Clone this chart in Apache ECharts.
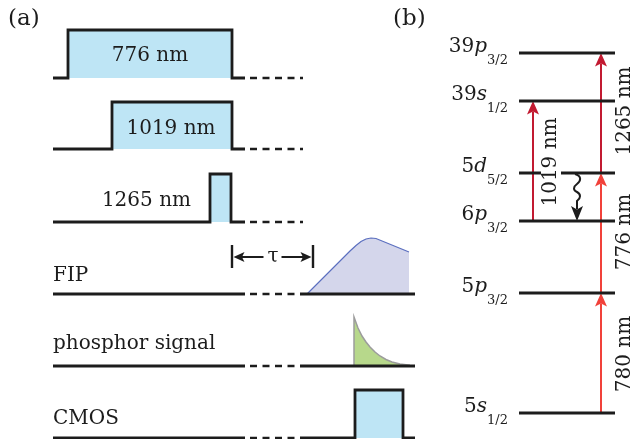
<!DOCTYPE html>
<html><head><meta charset="utf-8">
<script src="https://cdn.jsdelivr.net/npm/echarts@6/dist/echarts.min.js"></script>
<style>html,body{margin:0;padding:0;background:#fff}#c{width:636px;height:439px}</style>
</head><body><div id="c"></div>
<script>
// ================= DATA =================
// Panel (a): timing traces (time in arbitrary units, amplitude in arbitrary units)
const traceLabels = ['776 nm', '1019 nm', '1265 nm', 'FIP', 'phosphor signal', 'CMOS'];
const pulse776  = [15, 179, 48];   // [start, end, amplitude]
const pulse1019 = [59, 179, 47];
const pulse1265 = [157, 178, 48];
const pulseCMOS = [302, 350, 48];
const fipCurve = [[254, 0], [297, 43], [303, 48.5], [308, 52.5], [313, 55], [318, 56], [323, 55.5], [356, 42]];
const phosphorCurve = [[301, 49], [305, 38], [309, 30], [313, 24], [317, 19], [322, 14], [327, 10], [333, 6.5], [339, 4], [347, 2], [357, 0.8]];
const tauSpan = [179, 260];
const tauLabel = 'τ';
const timeEnd = 362;
const solidEnd = 192, dashStart = 197, dashEndShort = 250, dashEndLong = 244, resumeStart = 247;

// Panel (b): energy levels (arbitrary energy units)
const levelNames = [['5', 's', '1/2'], ['5', 'p', '3/2'], ['6', 'p', '3/2'], ['5', 'd', '5/2'], ['39', 's', '1/2'], ['39', 'p', '3/2']];
const levelEnergies = [0, 120, 192, 240, 312, 360];
// transitions: [from level index, to level index]
const transitionLabels = ['780 nm', '776 nm', '1019 nm', '1265 nm'];
const transitionLevels = [[0, 1], [1, 3], [2, 4], [3, 5]];
const decayLevels = [3, 2];   // 5d -> 6p wavy decay

// ================= LAYOUT / STYLE =================
const FONT = '"DejaVu Serif", "Liberation Serif", serif';
const INK = '#1c1c1c';
const BLUE = '#bee5f5';
const DARKRED = '#c21a31', RED = '#f1413a';
const traceBase = [78, 149, 222, 294, 366, 438];
const transitionX = [82, 82, 14, 82];
const transitionColor = [RED, RED, DARKRED, DARKRED];
const transitionLabelPos = [[106, 59], [106, 181], [32, 251], [106, 302]];
const decayX = 58;

const grids = [], xAxes = [], yAxes = [], series = [];
traceBase.forEach((b, i) => {
  grids.push({left: 53, width: 362, top: b - 60, height: 60});
  xAxes.push({type: 'value', gridIndex: i, min: 0, max: timeEnd, show: false});
  yAxes.push({type: 'value', gridIndex: i, min: 0, max: 60, show: false});
});
grids.push({left: 519, width: 96, top: 53, height: 360});
xAxes.push({type: 'value', gridIndex: 6, min: 0, max: 96, show: false});
yAxes.push({type: 'value', gridIndex: 6, min: 0, max: 360, show: false});

function line(g, pts, opt) {
  opt = opt || {};
  series.push({type: 'line', xAxisIndex: g, yAxisIndex: g, data: pts, symbol: 'none', clip: false, silent: true,
    z: opt.z || 3, animation: false,
    lineStyle: {color: opt.color || INK, width: opt.width == null ? 3 : opt.width, type: opt.dash || 'solid', cap: 'butt', join: 'miter'}});
}
function fill(g, pts, color) {
  series.push({type: 'line', xAxisIndex: g, yAxisIndex: g, data: pts, symbol: 'none', clip: false, silent: true,
    z: 1, animation: false, lineStyle: {width: 0, opacity: 0}, areaStyle: {color: color, opacity: 1, origin: 'start'}});
}
const DASH = [7, 5.5];
function pulseTrace(g, p, withStart, endT) {
  fill(g, [[p[0], 0], [p[0], p[2]], [p[1], p[2]], [p[1], 0]], BLUE);
  line(g, [[withStart, 0], [p[0], 0], [p[0], p[2]], [p[1], p[2]], [p[1], 0], [endT, 0]], {width: 2.8});
}
// traces 1-3
[pulse776, pulse1019, pulse1265].forEach((p, i) => {
  pulseTrace(i, p, 0, solidEnd);
  line(i, [[dashStart, 0], [dashEndShort, 0]], {dash: DASH, width: 2.4});
});
// FIP
fill(3, fipCurve.concat([[fipCurve[fipCurve.length - 1][0], 0]]), '#d4d6eb');
line(3, fipCurve, {color: '#5b6fbf', width: 1.2, z: 2});
// phosphor
fill(4, [[phosphorCurve[0][0], 0]].concat(phosphorCurve, [[phosphorCurve[phosphorCurve.length - 1][0], 0]]), '#b7d88b');
line(4, [[phosphorCurve[0][0], 0]].concat(phosphorCurve), {color: '#9c9c9c', width: 1.5, z: 2});
// baselines of traces 4-6
[3, 4, 5].forEach(g => {
  line(g, [[0, 0], [solidEnd, 0]]);
  line(g, [[dashStart, 0], [dashEndLong, 0]], {dash: DASH, width: 2.4});
  if (g !== 5) line(g, [[resumeStart, 0], [timeEnd, 0]]);
});
// CMOS
pulseTrace(5, pulseCMOS, resumeStart, timeEnd);

// trace labels
const labelAnchors = [[97, 22, 'center'], [118, 20, 'center'], [138, 21.5, 'right'], [0, 18.5, 'left'], [0, 22, 'left'], [0, 19, 'left']];
function textItem(g, t, a, txt, align) {
  series.push({type: 'custom', coordinateSystem: 'cartesian2d', xAxisIndex: g, yAxisIndex: g, data: [[t, a]], z: 6,
    silent: true, animation: false,
    renderItem: (p, api) => {
      const c = api.coord([api.value(0), api.value(1)]);
      return {type: 'text', x: c[0], y: c[1], style: {text: txt, fontFamily: FONT, fontSize: 20, fill: INK, align: align, verticalAlign: 'middle'}};
    }});
}
traceLabels.forEach((t, i) => textItem(i, labelAnchors[i][0], labelAnchors[i][1], t, labelAnchors[i][2]));
textItem(3, (tauSpan[0] + tauSpan[1]) / 2 + 0.5, 37, tauLabel, 'center');

function arrowHead(tip, dx, dy, hl, hw, notch, color) {
  // dx,dy unit direction of arrow
  const bx = tip[0] - dx * hl, by = tip[1] - dy * hl;
  const nx = tip[0] - dx * (hl - notch), ny = tip[1] - dy * (hl - notch);
  const px = -dy, py = dx;
  return {type: 'polygon', shape: {points: [tip, [bx + px * hw, by + py * hw], [nx, ny], [bx - px * hw, by - py * hw]]},
    style: {fill: color, stroke: null}};
}

// tau marker
series.push({type: 'custom', coordinateSystem: 'cartesian2d', xAxisIndex: 3, yAxisIndex: 3, data: [[tauSpan[0], 37]], z: 5,
  silent: true, animation: false,
  renderItem: (p, api) => {
    const a0 = api.coord([tauSpan[0], 26]), a1 = api.coord([tauSpan[0], 49]);
    const b0 = api.coord([tauSpan[1], 26]), b1 = api.coord([tauSpan[1], 49]);
    const m0 = api.coord([tauSpan[0], 37]), m1 = api.coord([tauSpan[1], 37]);
    const y = m0[1];
    const lx = m0[0] + 1.5, rx = m1[0] - 1.5;
    return {type: 'group', children: [
      {type: 'line', shape: {x1: a0[0], y1: a0[1], x2: a1[0], y2: a1[1]}, style: {stroke: INK, lineWidth: 2.4}},
      {type: 'line', shape: {x1: b0[0], y1: b0[1], x2: b1[0], y2: b1[1]}, style: {stroke: INK, lineWidth: 2.4}},
      {type: 'line', shape: {x1: lx + 8, y1: y, x2: lx + 30, y2: y}, style: {stroke: INK, lineWidth: 2}},
      {type: 'line', shape: {x1: rx - 8, y1: y, x2: rx - 30, y2: y}, style: {stroke: INK, lineWidth: 2}},
      arrowHead([lx, y], -1, 0, 11, 5, 2.5, INK),
      arrowHead([rx, y], 1, 0, 11, 5, 2.5, INK)
    ]};
  }});

// ---------- panel (b) ----------
// transitions (arrows)
series.push({type: 'custom', coordinateSystem: 'cartesian2d', xAxisIndex: 6, yAxisIndex: 6,
  data: transitionLevels.map((l, i) => [transitionX[i], levelEnergies[l[0]], levelEnergies[l[1]]]), z: 2,
  silent: true, animation: false,
  renderItem: (p, api) => {
    const i = p.dataIndex;
    const p0 = api.coord([api.value(0), api.value(1)]);
    const p1 = api.coord([api.value(0), api.value(2)]);
    const col = transitionColor[i];
    const hl = 13.5;
    return {type: 'group', children: [
      {type: 'line', shape: {x1: p0[0], y1: p0[1], x2: p1[0], y2: p1[1] + hl - 3}, style: {stroke: col, lineWidth: 2}},
      arrowHead([p1[0], p1[1]], 0, -1, hl, 6, 3, col)
    ]};
  }});
// wavy decay arrow
series.push({type: 'custom', coordinateSystem: 'cartesian2d', xAxisIndex: 6, yAxisIndex: 6,
  data: [[decayX, levelEnergies[decayLevels[0]], levelEnergies[decayLevels[1]]]], z: 2, silent: true, animation: false,
  renderItem: (p, api) => {
    const p0 = api.coord([api.value(0), api.value(1)]);
    const p1 = api.coord([api.value(0), api.value(2)]);
    const x = p0[0], y0 = p0[1] + 1;
    const hl = 15;
    const d = 'M ' + (x - 2) + ' ' + y0 +
      ' C ' + (x + 5) + ' ' + (y0 + 2) + ' ' + (x + 4) + ' ' + (y0 + 7) + ' ' + x + ' ' + (y0 + 10) +
      ' C ' + (x - 4) + ' ' + (y0 + 13) + ' ' + (x - 4) + ' ' + (y0 + 16) + ' ' + x + ' ' + (y0 + 18) +
      ' C ' + (x + 4) + ' ' + (y0 + 20) + ' ' + (x + 4) + ' ' + (y0 + 24) + ' ' + x + ' ' + (y0 + 27) +
      ' L ' + x + ' ' + (p1[1] - hl + 3);
    return {type: 'group', children: [
      {type: 'path', shape: {pathData: d}, style: {stroke: INK, fill: null, lineWidth: 2}},
      arrowHead([p1[0], p1[1]], 0, 1, hl, 6, 3.5, INK)
    ]};
  }});
// levels + labels
series.push({type: 'custom', coordinateSystem: 'cartesian2d', xAxisIndex: 6, yAxisIndex: 6,
  data: levelEnergies.map(e => [0, e]), z: 3, silent: true, animation: false,
  renderItem: (p, api) => {
    const i = p.dataIndex;
    const a = api.coord([0, api.value(1)]), b = api.coord([96, api.value(1)]);
    const nm = levelNames[i];
    const sub = nm[1] === 'p' ? 'sp' : 'ss';
    return {type: 'group', children: [
      {type: 'line', shape: {x1: a[0], y1: a[1], x2: b[0], y2: b[1]}, style: {stroke: INK, lineWidth: 3}},
      {type: 'text', x: a[0] - 11, y: a[1] - 6, style: {
        text: '{m|' + nm[0] + '}{i|' + nm[1] + '}{' + sub + '|' + nm[2] + '}',
        align: 'right', verticalAlign: 'middle', fill: INK, fontFamily: FONT, fontSize: 20,
        rich: {
          m: {fontFamily: FONT, fontSize: 20, lineHeight: 40, fill: INK},
          i: {fontFamily: FONT, fontSize: 20, fontStyle: 'italic', lineHeight: 40, fill: INK},
          ss: {fontFamily: FONT, fontSize: 13, lineHeight: 16, verticalAlign: 'bottom', fill: INK},
          sp: {fontFamily: FONT, fontSize: 13, lineHeight: 12, verticalAlign: 'bottom', fill: INK}
        }}}
    ]};
  }});
// transition labels
series.push({type: 'custom', coordinateSystem: 'cartesian2d', xAxisIndex: 6, yAxisIndex: 6,
  data: transitionLabelPos, z: 4, silent: true, animation: false,
  renderItem: (p, api) => {
    const i = p.dataIndex;
    const c = api.coord([api.value(0), api.value(1)]);
    return {type: 'text', x: c[0], y: c[1], rotation: Math.PI / 2, style: {
      text: transitionLabels[i], align: 'center', verticalAlign: 'middle', fontFamily: FONT, fontSize: 20, fill: INK,
      backgroundColor: i === 2 ? '#fff' : null, padding: [0, 3]}};
  }});

const chart = echarts.init(document.getElementById('c'));
chart.setOption({
  animation: false,
  backgroundColor: '#fff',
  grid: grids, xAxis: xAxes, yAxis: yAxes, series: series,
  graphic: [
    {type: 'text', left: 8, top: 8, style: {text: '(a)', fontFamily: FONT, fontSize: 23, fill: INK}},
    {type: 'text', left: 393, top: 8, style: {text: '(b)', fontFamily: FONT, fontSize: 23, fill: INK}}
  ]
});
</script></body></html>
